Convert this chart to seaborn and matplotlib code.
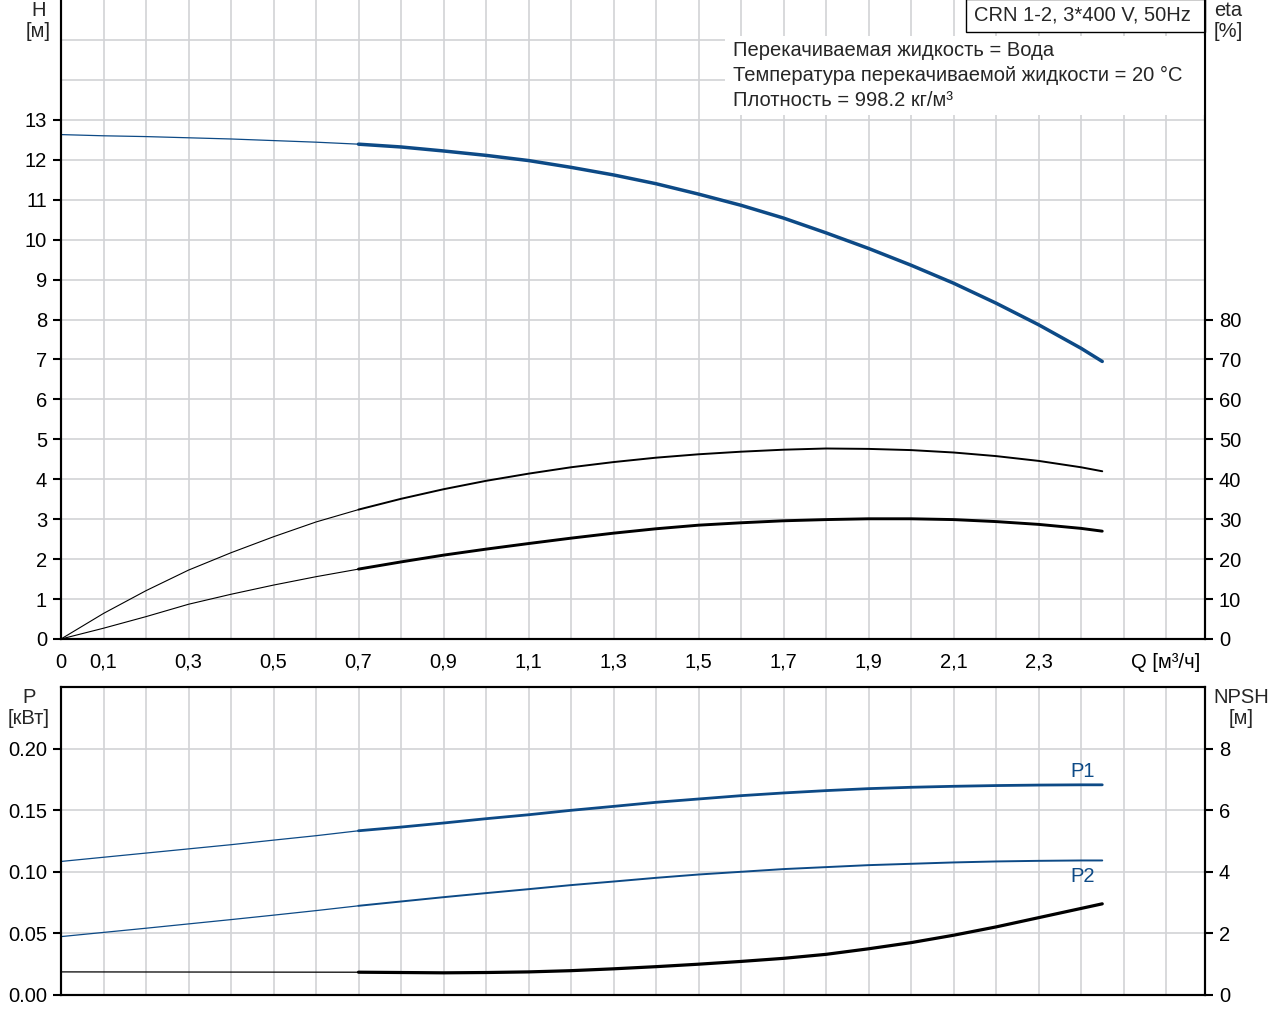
import matplotlib.pyplot as plt
import seaborn as sns
from matplotlib.patches import Rectangle

# flow points [m3/h]
q_thin = [0.0, 0.1, 0.2, 0.3, 0.4, 0.5, 0.6, 0.7]
q_thick = [0.7, 0.8, 0.9, 1.0, 1.1, 1.2, 1.3, 1.4, 1.5, 1.6, 1.7, 1.8,
           1.9, 2.0, 2.1, 2.2, 2.3, 2.4, 2.45]
q_npsh_thin = [0.0, 0.7]

# head H [m]
h_thin = [12.63, 12.60, 12.58, 12.55, 12.52, 12.48, 12.44, 12.39]
h_thick = [12.39, 12.32, 12.22, 12.11, 11.98, 11.81, 11.62, 11.40, 11.14, 10.86,
           10.54, 10.17, 9.78, 9.36, 8.91, 8.41, 7.87, 7.28, 6.95]

# efficiencies [%]
eta1_thin = [0.0, 6.4, 12.1, 17.25, 21.6, 25.6, 29.3, 32.4]
eta1_thick = [32.4, 35.1, 37.5, 39.6, 41.4, 43.0, 44.3, 45.4, 46.25, 46.9,
              47.4, 47.7, 47.6, 47.3, 46.7, 45.8, 44.6, 43.0, 42.0]
eta2_thin = [0.0, 2.7, 5.6, 8.7, 11.2, 13.5, 15.6, 17.5]
eta2_thick = [17.5, 19.3, 21.0, 22.5, 23.9, 25.25, 26.5, 27.6, 28.5, 29.1,
              29.6, 29.9, 30.1, 30.1, 29.9, 29.4, 28.7, 27.7, 27.0]

# power [kW]
p1_thin = [0.1084, 0.1118, 0.1152, 0.1186, 0.1220, 0.1257, 0.1293, 0.1333]
p1_thick = [0.1333, 0.1363, 0.1396, 0.1431, 0.1463, 0.1499, 0.1531, 0.1564, 0.1591,
            0.1618, 0.1640, 0.1659, 0.1675, 0.1686, 0.1694, 0.1700, 0.1704, 0.1706, 0.1706]
p2_thin = [0.0474, 0.0508, 0.0542, 0.0577, 0.0612, 0.0648, 0.0685, 0.0724]
p2_thick = [0.0724, 0.0759, 0.0794, 0.0827, 0.0859, 0.0892, 0.0921, 0.0951, 0.0978,
            0.1000, 0.1022, 0.1038, 0.1054, 0.1065, 0.1076, 0.1084, 0.1089, 0.1092, 0.1092]

# NPSH [m]
npsh_thin = [0.75, 0.74]
npsh_thick = [0.74, 0.73, 0.72, 0.73, 0.75, 0.79, 0.85, 0.92, 1.00, 1.09,
              1.19, 1.32, 1.50, 1.70, 1.94, 2.21, 2.51, 2.81, 2.96]

# axis ticks
x_ticks = [0.0, 0.1, 0.2, 0.3, 0.4, 0.5, 0.6, 0.7, 0.8, 0.9, 1.0, 1.1, 1.2, 1.3,
           1.4, 1.5, 1.6, 1.7, 1.8, 1.9, 2.0, 2.1, 2.2, 2.3, 2.4, 2.5, 2.6]
x_labels = ['0', '0,1', '', '0,3', '', '0,5', '', '0,7', '', '0,9', '', '1,1', '', '1,3',
            '', '1,5', '', '1,7', '', '1,9', '', '2,1', '', '2,3', '', '', 'Q [м³/ч]']
h_ticks = [0, 1, 2, 3, 4, 5, 6, 7, 8, 9, 10, 11, 12, 13]
eta_ticks = [0, 10, 20, 30, 40, 50, 60, 70, 80]
p_ticks = [0.0, 0.05, 0.10, 0.15, 0.20]
p_labels = ['0.00', '0.05', '0.10', '0.15', '0.20']
npsh_ticks = [0, 2, 4, 6, 8]

info_lines = ['Перекачиваемая жидкость = Вода',
              'Температура перекачиваемой жидкости = 20 °C',
              'Плотность = 998.2 кг/м³']
title = 'CRN 1-2, 3*400 V, 50Hz'

sns.set_theme(style='white')
plt.rcParams['font.family'] = ['Liberation Sans', 'DejaVu Sans']
FS = 14.5
plt.rcParams['font.size'] = FS

BLUE = '#0d4a86'
GRID = '#d2d3d6'
W, H = 1280, 1024

fig = plt.figure(figsize=(12.8, 10.24), dpi=100)
x0, x1 = 61 / W, 1205 / W
ax = fig.add_axes([x0, 1 - 639 / H, x1 - x0, 639 / H])
axb = fig.add_axes([x0, 1 - 995 / H, x1 - x0, (995 - 687) / H])


def style(a):
    for s in a.spines.values():
        s.set_linewidth(1.5)
        s.set_color('black')
    a.tick_params(axis='both', which='major', direction='out', length=6, width=1.5,
                  labelsize=FS, colors='black', pad=4)


# ---- top panel: H and eta ----
ax.set_xlim(0, 1144 / 425)
ax.set_ylim(0, 16)
ax.set_xticks(x_ticks)
ax.set_xticklabels(x_labels)
ax.set_yticks(h_ticks)
ax.set_yticks([14, 15], minor=True)
ax.tick_params(axis='y', which='minor', length=0)
ax.set_axisbelow(True)
ax.grid(True, which='both', color=GRID, lw=1.2)
style(ax)
ax.spines['top'].set_visible(False)
ax.tick_params(axis='x', length=7, pad=3)

sns.lineplot(x=q_thin, y=h_thin, ax=ax, color=BLUE, lw=0.9)
sns.lineplot(x=q_thick, y=h_thick, ax=ax, color=BLUE, lw=2.5,
             solid_capstyle='round', solid_joinstyle='round')

ax_eta = ax.twinx()
ax_eta.set_ylim(0, 160)
ax_eta.set_yticks(eta_ticks)
ax_eta.grid(False)
style(ax_eta)
ax_eta.spines['top'].set_visible(False)
sns.lineplot(x=q_thin, y=eta1_thin, ax=ax_eta, color='black', lw=0.8)
sns.lineplot(x=q_thick, y=eta1_thick, ax=ax_eta, color='black', lw=1.4,
             solid_capstyle='round', solid_joinstyle='round')
sns.lineplot(x=q_thin, y=eta2_thin, ax=ax_eta, color='black', lw=0.8)
sns.lineplot(x=q_thick, y=eta2_thick, ax=ax_eta, color='black', lw=2.1,
             solid_capstyle='round', solid_joinstyle='round')
ax_eta.set_xlim(0, 1144 / 425)

# info boxes
ax.add_patch(Rectangle(((725 - 61) / 1144, (639 - 115) / 639), (1205 - 725) / 1144,
                       (115 - 36) / 639, transform=ax.transAxes, facecolor='white',
                       edgecolor='none', zorder=3))
for i, line in enumerate(info_lines):
    ax.text((733 - 61) / 1144, (639 - 50 - 25.5 * i) / 639, line, transform=ax.transAxes,
            ha='left', va='center', fontsize=FS, zorder=4)
ax.add_patch(Rectangle(((966 - 61) / 1144, (639 - 32) / 639), (1205 - 966) / 1144,
                       33 / 639, transform=ax.transAxes, facecolor='white',
                       edgecolor='black', lw=1, zorder=3, clip_on=False))
ax.text((1082 - 61) / 1144, (639 - 15) / 639, title, transform=ax.transAxes,
        ha='center', va='center', fontsize=FS, zorder=4)

ax.set_xlabel('')
ax.set_ylabel('')
ax_eta.set_ylabel('')

# ---- bottom panel: P and NPSH ----
axb.set_xlim(0, 1144 / 425)
axb.set_ylim(0, 0.25)
axb.set_xticks(x_ticks)
axb.set_xticklabels([])
axb.set_yticks(p_ticks)
axb.set_yticklabels(p_labels)
axb.set_yticks([0.25], minor=True)
axb.tick_params(axis='y', which='minor', length=0)
axb.set_axisbelow(True)
axb.grid(True, which='both', color=GRID, lw=1.2)
style(axb)
axb.tick_params(axis='x', length=0)

sns.lineplot(x=q_thin, y=p1_thin, ax=axb, color=BLUE, lw=0.9)
sns.lineplot(x=q_thick, y=p1_thick, ax=axb, color=BLUE, lw=2.0,
             solid_capstyle='round', solid_joinstyle='round')
sns.lineplot(x=q_thin, y=p2_thin, ax=axb, color=BLUE, lw=0.9)
sns.lineplot(x=q_thick, y=p2_thick, ax=axb, color=BLUE, lw=1.4,
             solid_capstyle='round', solid_joinstyle='round')
axb.text(2.405, 0.1813, 'P1', color=BLUE, ha='center', va='center', fontsize=FS)
axb.text(2.405, 0.0963, 'P2', color=BLUE, ha='center', va='center', fontsize=FS)
axb.set_xlabel('')
axb.set_ylabel('')

ax_npsh = axb.twinx()
ax_npsh.set_ylim(0, 10)
ax_npsh.set_yticks(npsh_ticks)
ax_npsh.grid(False)
style(ax_npsh)
sns.lineplot(x=q_npsh_thin, y=npsh_thin, ax=ax_npsh, color='black', lw=0.9)
sns.lineplot(x=q_thick, y=npsh_thick, ax=ax_npsh, color='black', lw=2.3,
             solid_capstyle='round', solid_joinstyle='round')
ax_npsh.set_xlim(0, 1144 / 425)
ax_npsh.set_ylabel('')

# axis titles
fig.text(38.5 / W, 1 - 1 / H, 'H\n[м]', ha='center', va='top', fontsize=FS, linespacing=1.15)
fig.text(1228 / W, 1 - 1 / H, 'eta\n[%]', ha='center', va='top', fontsize=FS, linespacing=1.15)
fig.text(29 / W, 1 - 688 / H, 'P\n[кВт]', ha='center', va='top', fontsize=FS, linespacing=1.15)
fig.text(1241 / W, 1 - 688 / H, 'NPSH\n[м]', ha='center', va='top', fontsize=FS, linespacing=1.15)

plt.savefig('out.png', dpi=100)
